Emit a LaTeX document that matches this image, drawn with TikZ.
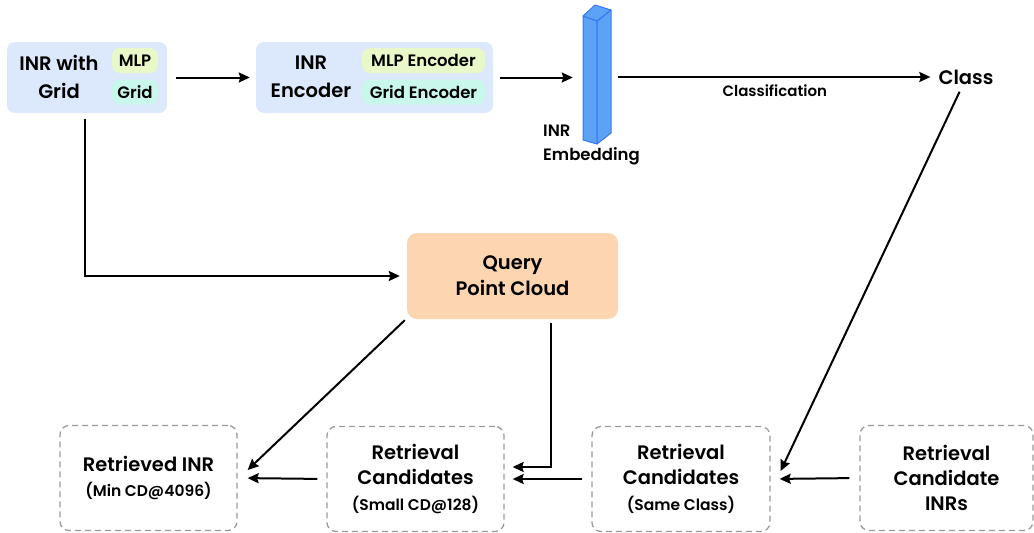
\documentclass[tikz,border=0pt]{standalone}
\usepackage{fontspec}
\setmainfont{Poppins}[BoldFont={Poppins SemiBold}]
\usetikzlibrary{arrows.meta}
\definecolor{boxblue}{HTML}{DCE8FB}
\definecolor{pillmlp}{HTML}{E9F8C8}
\definecolor{pillgrid}{HTML}{C9F7EC}
\definecolor{qfill}{HTML}{FDD5B0}
\definecolor{dgray}{HTML}{9A9A9A}
\definecolor{barfill}{HTML}{5EA2F8}
\definecolor{barline}{HTML}{3478F0}
\newcommand\bigf{\fontsize{19.5}{26}\selectfont\bfseries}
\newcommand\midf{\fontsize{16.5}{24}\selectfont\bfseries}
\newcommand\smlf{\fontsize{15.5}{20}\selectfont\bfseries}
\newcommand\labf{\fontsize{15}{20}\selectfont\bfseries}
\tikzset{
  bluebox/.style={fill=boxblue, rounded corners=8pt, inner sep=0pt},
  pill/.style={rounded corners=8pt, inner sep=0pt, minimum height=25pt, font=\midf},
  dbox/.style={draw=dgray, line width=1.3pt, dash pattern=on 6pt off 4pt, rounded corners=9pt, minimum width=177pt, minimum height=105pt, inner sep=0pt, align=center, font=\bigf},
  arr/.style={line width=2pt, -{Stealth[length=11pt,width=10pt,inset=1.5pt]}},
  txt/.style={font=\bigf, align=center, inner sep=0pt}
}
\begin{document}
\begin{tikzpicture}[x=1pt,y=-1pt]
\useasboundingbox (0,0) rectangle (1034,533);
% top-left box
\node[bluebox, minimum width=160pt, minimum height=71pt] (b1) at (87,77.5) {};
\node[txt] (b1t) at (59,77) {INR with\\[2pt]Grid};
\node[pill, fill=pillmlp, minimum width=46pt] (p1) at (135,60.5) {MLP};
\node[pill, fill=pillgrid, minimum width=46pt] (p2) at (135,92) {Grid};
% encoder box
\node[bluebox, minimum width=237pt, minimum height=71pt] (b2) at (374.5,77.5) {};
\node[txt] (b2t) at (311,77) {INR\\[2pt]Encoder};
\node[pill, fill=pillmlp, minimum width=123pt] (p3) at (423.5,60.5) {MLP Encoder};
\node[pill, fill=pillgrid, minimum width=123pt] (p4) at (423.5,92) {Grid Encoder};
% embedding bar
\node[inner sep=0pt, minimum width=28pt, minimum height=139pt] (emb) at (597,74.5) {};
\draw[fill=barfill, draw=barline, line width=1pt, line join=round]
  (583,16) -- (597,21) -- (597,144) -- (583,140) -- cycle;
\draw[fill=barfill, draw=barline, line width=1pt, line join=round]
  (597,21) -- (611,10) -- (611,133) -- (597,144) -- cycle;
\draw[fill=barfill, draw=barline, line width=1pt, line join=round]
  (583,16) -- (595,5) -- (611,10) -- (597,21) -- cycle;
\node[font=\midf, align=left, anchor=west, inner sep=0pt] (embt) at (543,145) {INR\\Embedding};
% class
\node[font=\bigf, inner sep=0pt] (cls) at (966,77) {Class};
% query
\node[fill=qfill, rounded corners=10pt, minimum width=211pt, minimum height=86pt, inner sep=0pt, align=center, font=\bigf] (q) at (512.5,276) {Query\\Point Cloud};
% bottom boxes
\node[dbox] (A) at (148.5,478) {Retrieved INR\\[-1pt]{\smlf (Min CD@4096)}};
\node[dbox] (B) at (415.5,479) {Retrieval\\[-1pt]Candidates\\[0pt]{\smlf (Small CD@128)}};
\node[dbox, minimum width=178pt] (C) at (681,479) {Retrieval\\[-1pt]Candidates\\[0pt]{\smlf (Same Class)}};
\node[dbox, minimum width=173pt] (D) at (946.5,478) {Retrieval\\[-1pt]Candidate\\[-1pt]INRs};
% top arrows
\draw[arr, shorten <=9pt, shorten >=6pt] (b1.east) -- (b2.west);
\draw[arr, shorten <=7pt, shorten >=10pt] (b2.east) -- (b2.east -| emb.west);
\draw[arr, shorten <=7pt, shorten >=8pt] (emb.east |- cls.west) -- node[below=7pt, font=\labf, inner sep=0pt] (clab) {Classification} (cls.west);
% class down to C
\draw[arr, shorten <=8pt] ([xshift=-3pt]cls.south) -- ([xshift=10pt,yshift=8pt]C.east);
% box1 down to query
\draw[arr, shorten >=7pt] ([xshift=-2pt,yshift=-6pt]b1.south) |- (q.west);
% query to A
\draw[arr] ([xshift=-2pt,yshift=-1pt]q.south west) -- ([xshift=10pt,yshift=8pt]A.east);
% query to B
\draw[arr] ([xshift=38.5pt,yshift=-4pt]q.south) |- ([xshift=8pt,yshift=12pt]B.east);
% bottom chain
\draw[arr, shorten <=10pt, shorten >=9pt] (D.west) -- (C.east);
\draw[arr, shorten <=9pt, shorten >=8pt] (C.west) -- (B.east);
\draw[arr, shorten <=9pt, shorten >=10pt] (B.west) -- (A.east);
\end{tikzpicture}
\end{document}
